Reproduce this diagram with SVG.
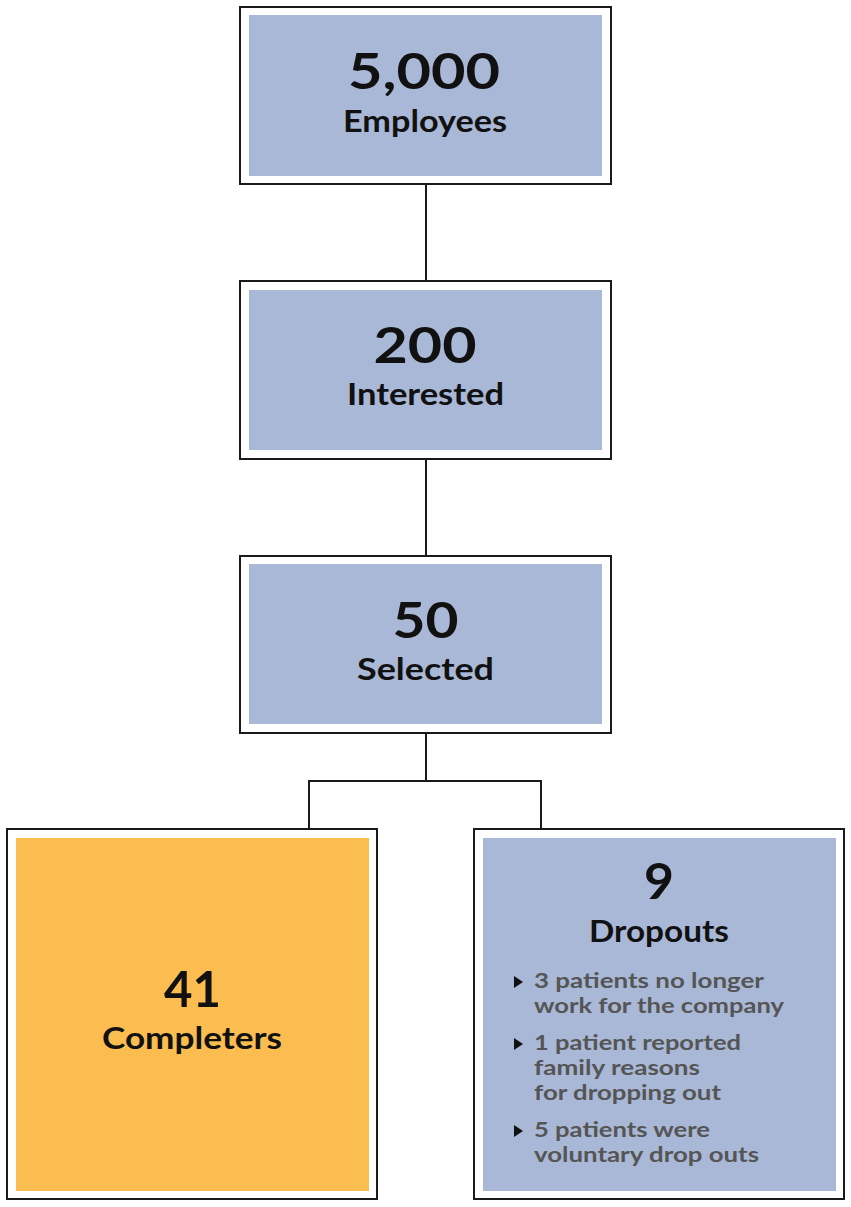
<svg xmlns="http://www.w3.org/2000/svg" width="851" height="1207" viewBox="0 0 851 1207">
<style>
.outer{fill:#ffffff;stroke:#1a1a1a;stroke-width:2}
.blue{fill:#a9b8d6}
.orange{fill:#fbbd4f}
.num{font-family:Lato,"Liberation Sans",sans-serif;font-weight:700;font-size:50px;fill:#111;text-anchor:middle}
.lbl{font-family:Lato,"Liberation Sans",sans-serif;font-weight:700;font-size:30px;fill:#111;text-anchor:middle}
.item{font-family:Lato,"Liberation Sans",sans-serif;font-weight:700;font-size:20px;fill:#555}
.con{fill:none;stroke:#1a1a1a;stroke-width:2}
</style>
<rect width="851" height="1207" fill="#ffffff"/>
<g id="connectors">
<line class="con" x1="426" y1="184" x2="426" y2="281"/>
<line class="con" x1="426" y1="459" x2="426" y2="556"/>
<polyline class="con" points="426,733 426,781 309,781 309,829"/>
<polyline class="con" points="426,781 541,781 541,829"/>
</g>
<g id="employees">
<rect class="outer" x="240" y="7" width="371" height="177"/>
<rect class="blue" x="249" y="15" width="353" height="161"/>
<text class="num" x="424" y="89" textLength="152" lengthAdjust="spacingAndGlyphs">5,000</text>
<text class="lbl" x="425" y="132" textLength="164" lengthAdjust="spacingAndGlyphs">Employees</text>
</g>
<g id="interested">
<rect class="outer" x="240" y="281" width="371" height="178"/>
<rect class="blue" x="249" y="290" width="353" height="160"/>
<text class="num" x="425" y="363" textLength="103" lengthAdjust="spacingAndGlyphs">200</text>
<text class="lbl" x="425.5" y="405" textLength="157" lengthAdjust="spacingAndGlyphs">Interested</text>
</g>
<g id="selected">
<rect class="outer" x="240" y="556" width="371" height="177"/>
<rect class="blue" x="249" y="564" width="353" height="160"/>
<text class="num" x="425.5" y="638" textLength="66" lengthAdjust="spacingAndGlyphs">50</text>
<text class="lbl" x="425.5" y="680" textLength="137" lengthAdjust="spacingAndGlyphs">Selected</text>
</g>
<g id="completers">
<rect class="outer" x="7" y="829" width="370" height="370"/>
<rect class="orange" x="16" y="838" width="353" height="353"/>
<text class="num" x="192.5" y="1007" textLength="57" lengthAdjust="spacingAndGlyphs">41</text>
<text class="lbl" x="192" y="1049" textLength="180" lengthAdjust="spacingAndGlyphs">Completers</text>
</g>
<g id="dropouts">
<rect class="outer" x="474" y="829" width="370" height="370"/>
<rect class="blue" x="483" y="838" width="353" height="353"/>
<text class="num" x="659" y="899" textLength="30" lengthAdjust="spacingAndGlyphs">9</text>
<text class="lbl" x="659" y="942" textLength="140" lengthAdjust="spacingAndGlyphs">Dropouts</text>
<polygon points="514,976 523,982 514,988" fill="#111"/>
<polygon points="514,1038 523,1044 514,1050" fill="#111"/>
<polygon points="514,1125 523,1131 514,1137" fill="#111"/>
<text class="item" x="534" y="988" textLength="230" lengthAdjust="spacingAndGlyphs">3 patients no longer</text>
<text class="item" x="534" y="1013" textLength="250" lengthAdjust="spacingAndGlyphs">work for the company</text>
<text class="item" x="534" y="1050" textLength="207" lengthAdjust="spacingAndGlyphs">1 patient reported</text>
<text class="item" x="534" y="1075" textLength="166" lengthAdjust="spacingAndGlyphs">family reasons</text>
<text class="item" x="534" y="1100" textLength="187" lengthAdjust="spacingAndGlyphs">for dropping out</text>
<text class="item" x="534" y="1137" textLength="176" lengthAdjust="spacingAndGlyphs">5 patients were</text>
<text class="item" x="534" y="1162" textLength="225" lengthAdjust="spacingAndGlyphs">voluntary drop outs</text>
</g>
</svg>
